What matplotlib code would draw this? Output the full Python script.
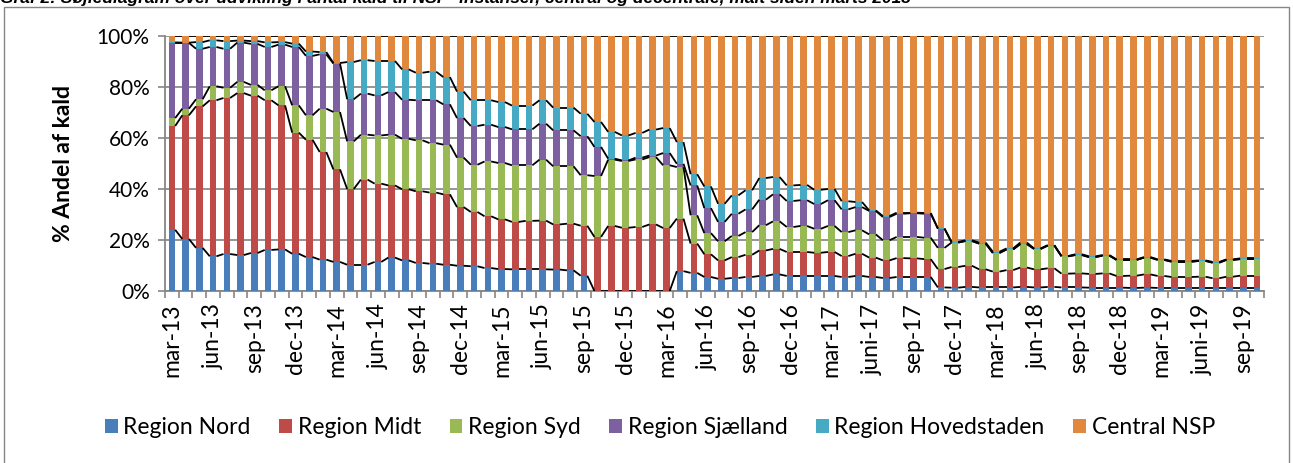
import matplotlib
matplotlib.use("Agg")
import matplotlib.pyplot as plt
from matplotlib.patches import Rectangle
import numpy as np

# ---------------- data (percent share of calls) ----------------
months = ["mar", "apr", "maj", "jun", "jul", "aug", "sep", "okt", "nov", "dec", "jan", "feb"]
tick_labels = ["mar-13", "jun-13", "sep-13", "dec-13", "mar-14", "jun-14", "sep-14", "dec-14",
               "mar-15", "jun-15", "sep-15", "dec-15", "mar-16", "jun-16", "sep-16", "dec-16",
               "mar-17", "juni-17", "sep-17", "dec-17", "mar-18", "jun-18", "sep-18", "dec-18",
               "mar-19", "juni-19", "sep-19"]

region_nord = [24.0, 20.4, 16.9, 13.6, 14.5, 14.1, 14.9, 16.1, 16.3, 14.6,
               13.3, 12.3, 11.4, 10.3, 10.3, 11.4, 13.1, 12.0, 11.0, 10.7,
               10.3, 9.9, 9.7, 9.0, 8.6, 8.5, 8.5, 8.5, 8.4, 8.1,
               6.0, 0.0, 0.0, 0.0, 0.0, 0.0, 0.0, 7.8, 7.1, 5.5,
               4.8, 5.1, 5.5, 5.9, 6.5, 5.9, 5.9, 5.9, 5.9, 5.5,
               5.9, 5.5, 5.1, 5.5, 5.5, 5.5, 1.4, 1.3, 1.6, 1.4,
               1.4, 1.4, 1.6, 1.4, 1.6, 1.4, 1.4, 1.3, 1.3, 1.3,
               1.2, 1.3, 1.2, 1.2, 1.2, 1.2, 1.2, 1.2, 1.2, 1.2]
region_midt = [40.7, 48.5, 55.5, 61.2, 61.2, 63.5, 61.7, 58.7, 56.5, 47.5,
               46.0, 42.2, 36.3, 29.7, 33.4, 30.7, 28.3, 27.9, 28.1, 27.9,
               27.6, 23.0, 21.3, 20.3, 19.5, 18.6, 19.0, 19.1, 17.7, 18.3,
               19.6, 21.2, 25.5, 24.8, 25.1, 26.1, 24.7, 20.6, 11.5, 8.9,
               7.2, 8.2, 8.7, 10.0, 10.0, 9.4, 9.4, 9.1, 9.4, 8.2,
               8.7, 7.6, 6.9, 7.4, 7.3, 7.0, 7.2, 8.1, 8.3, 7.1,
               6.2, 6.8, 7.6, 7.1, 7.3, 5.4, 5.5, 5.4, 5.6, 4.6,
               4.8, 5.2, 4.7, 4.3, 4.3, 4.4, 3.8, 4.4, 4.8, 4.8]
region_syd = [3.1, 2.6, 2.8, 5.5, 4.0, 4.4, 4.2, 3.9, 7.5, 10.7,
              9.6, 17.0, 22.5, 18.7, 17.6, 18.9, 19.9, 19.8, 20.0, 19.4,
              19.5, 19.4, 18.5, 21.5, 22.1, 22.2, 21.8, 23.9, 22.8, 22.5,
              19.8, 23.9, 26.0, 26.2, 26.5, 26.4, 24.6, 20.2, 11.1, 8.3,
              7.5, 8.3, 8.9, 9.9, 10.8, 9.8, 10.2, 9.4, 10.2, 9.4,
              9.2, 9.1, 7.9, 8.3, 8.4, 8.4, 8.3, 9.6, 9.7, 10.1,
              7.3, 8.1, 9.2, 8.0, 8.9, 6.8, 7.2, 6.6, 7.0, 6.3,
              6.2, 6.6, 6.3, 6.0, 6.0, 6.2, 6.1, 6.6, 6.5, 6.5]
region_sjaelland = [29.5, 25.8, 19.8, 15.4, 15.3, 15.4, 16.1, 17.0, 16.3, 22.9,
                    23.3, 21.3, 19.0, 16.5, 16.1, 15.7, 16.7, 15.3, 15.7, 16.8,
                    15.8, 15.5, 15.2, 14.4, 14.1, 14.1, 14.1, 14.1, 14.1, 14.1,
                    15.3, 11.4, 0.4, 0.2, 0.7, 0.6, 4.8, 1.3, 11.7, 9.8,
                    7.6, 8.7, 8.9, 10.0, 10.6, 10.2, 10.1, 9.7, 10.1, 8.9,
                    9.1, 9.2, 9.1, 9.1, 9.3, 9.4, 7.5, 0.0, 0.0, 0.0,
                    0.0, 0.0, 0.0, 0.0, 0.0, 0.0, 0.0, 0.0, 0.0, 0.0,
                    0.0, 0.0, 0.0, 0.0, 0.0, 0.0, 0.0, 0.0, 0.0, 0.0]
region_hovedstaden = [0.2, 0.1, 2.6, 2.6, 3.0, 0.8, 1.1, 1.8, 1.0, 1.3,
                      1.7, 0.9, 0.2, 14.6, 13.1, 13.5, 12.2, 11.9, 10.8, 11.2,
                      10.7, 10.4, 10.1, 9.6, 9.8, 9.3, 9.3, 9.2, 8.9, 8.9,
                      8.8, 9.8, 10.5, 9.8, 9.7, 10.2, 9.8, 8.5, 4.4, 8.5,
                      7.1, 7.2, 7.5, 8.5, 6.8, 6.1, 6.0, 5.6, 4.4, 3.2,
                      2.0, 0.2, 0.4, 0.4, 0.2, 0.3, 0.2, 0.2, 0.3, 0.4,
                      0.5, 0.4, 0.6, 0.2, 0.2, 0.1, 0.3, 0.3, 0.2, 0.2,
                      0.2, 0.2, 0.2, 0.3, 0.3, 0.2, 0.3, 0.2, 0.3, 0.3]
central_nsp = [2.5, 2.6, 2.4, 1.7, 2.0, 1.8, 2.0, 2.5, 2.4, 3.0,
               6.1, 6.3, 10.6, 10.2, 9.5, 9.8, 9.8, 13.1, 14.4, 14.0,
               16.1, 21.8, 25.2, 25.2, 25.9, 27.3, 27.3, 25.2, 28.1, 28.1,
               30.5, 33.7, 37.6, 39.0, 38.0, 36.7, 36.1, 41.6, 54.2, 59.0,
               65.8, 62.5, 60.5, 55.7, 55.3, 58.6, 58.4, 60.3, 60.0, 64.8,
               65.1, 68.4, 70.6, 69.3, 69.3, 69.4, 75.4, 80.8, 80.1, 81.0,
               84.6, 83.3, 81.0, 83.3, 82.0, 86.3, 85.6, 86.4, 85.9, 87.6,
               87.6, 86.7, 87.6, 88.2, 88.2, 88.0, 88.6, 87.6, 87.2, 87.2]

series_names = ["Region Nord", "Region Midt", "Region Syd", "Region Sjælland",
                "Region Hovedstaden", "Central NSP"]
series_values = [region_nord, region_midt, region_syd, region_sjaelland,
                 region_hovedstaden, central_nsp]
series_colors = ["#4A7EBB", "#BE4B48", "#98B954", "#7D60A0", "#46AAC5", "#E0893E"]

n = len(region_nord)
categories = [f"{months[i % 12]}-{13 + (i + 2) // 12}" for i in range(n)]

# ---------------- figure ----------------
plt.rcParams['font.family'] = ['Lato', 'DejaVu Sans']
fig = plt.figure(figsize=(12.93, 4.63), dpi=100)
W, H = 1293, 463

# outer chart frame
fig.patches.append(Rectangle((4 / W, -0.05), 1285 / W, 1.05 - 7 / H, transform=fig.transFigure,
                             fill=False, edgecolor="#868686", linewidth=1.0))

# caption at the very top (cut off by the page edge, as in the source)
fig.text(0.0, 1 - 3 / H, "Graf 2: Søjlediagram over udvikling i antal kald til NSP- instanser, central og decentrale, målt siden marts 2013",
         ha="left", va="baseline", fontsize=12.5, fontweight="bold", fontstyle="italic",
         family=["Liberation Sans", "DejaVu Sans"])

ax = fig.add_axes([165 / W, 1 - 291 / H, (1264 - 165) / W, (291 - 36) / H])

x = np.arange(n)
width = 0.48
vals = np.array(series_values, dtype=float)
totals = vals.sum(axis=0)
pct = vals / totals * 100
bottom = np.zeros(n)
tops = []
for name, v, c in zip(series_names, pct, series_colors):
    ax.bar(x, v, width, bottom=bottom, color=c, label=name, zorder=3, linewidth=0)
    bottom = bottom + v
    tops.append(bottom.copy())

# series lines (connect top of each series between adjacent bars)
for top in tops:
    for i in range(n - 1):
        ax.plot([x[i] + width / 2, x[i + 1] - width / 2], [top[i], top[i + 1]],
                color="black", lw=1.3, zorder=4, solid_capstyle="butt")

ax.set_xlim(-0.5, n - 0.5)
ax.set_ylim(0, 100)
ax.set_yticks(np.arange(0, 101, 20))
ax.set_yticklabels([f"{v}%" for v in range(0, 101, 20)], fontsize=15)
ax.yaxis.grid(True, color="#8C8C8C", linewidth=1.3, zorder=0)
ax.set_axisbelow(True)

label_pos = np.arange(0, n, 3)
ax.set_xticks(label_pos)
ax.set_xticklabels(tick_labels, rotation=90, fontsize=16.5, va="top", ha="center")
ax.set_xticks(np.arange(-0.5, n, 1), minor=True)
ax.tick_params(axis="x", which="major", length=0, pad=9)
ax.tick_params(axis="x", which="minor", length=5, color="#868686", width=1.2)
ax.tick_params(axis="y", length=5, color="#868686", width=1.2, pad=6)

for s in ["top", "right"]:
    ax.spines[s].set_visible(False)
for s in ["left", "bottom"]:
    ax.spines[s].set_color("#868686")
    ax.spines[s].set_linewidth(1.3)

ax.set_ylabel("% Andel af kald", fontsize=16.5, fontweight="bold", labelpad=16)

handles, labels = ax.get_legend_handles_labels()
fig.legend(handles, labels, loc="center", bbox_to_anchor=(660 / W, 1 - 428 / H), ncol=6,
           frameon=False, fontsize=16.5, handlelength=0.55, handleheight=0.55,
           handletextpad=0.25, columnspacing=1.25)

fig.savefig("out.png", dpi=100)
